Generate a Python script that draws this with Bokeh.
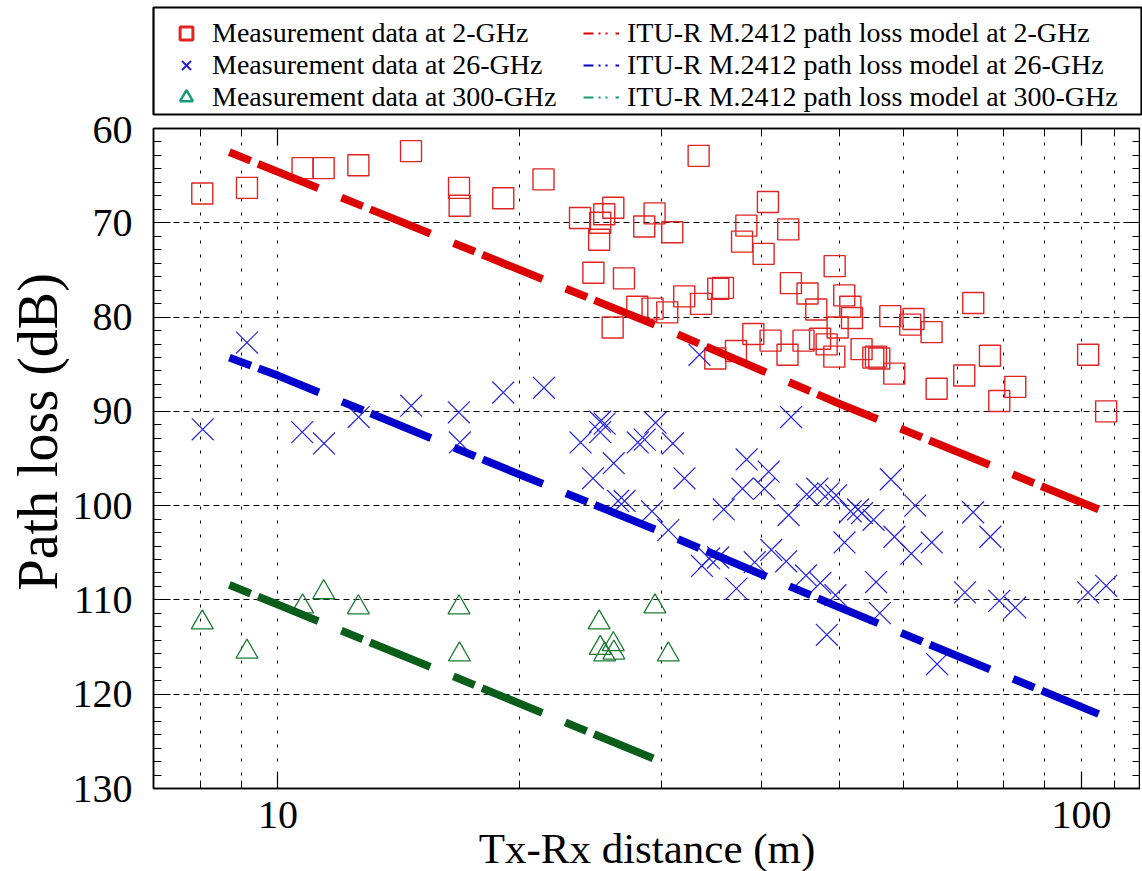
import numpy as np
from bokeh.plotting import figure
from bokeh.layouts import column
from bokeh.models import (Range1d, FixedTicker, SingleIntervalTicker, LogAxis, LinearAxis,
                          Legend, LegendItem, PrintfTickFormatter, Title)
from bokeh.embed import file_html
from bokeh.resources import INLINE

# ---------------- data ----------------
d_2ghz = [8.05, 9.15, 10.73, 11.40, 12.59, 14.64, 16.80, 16.83, 19.07, 21.40, 33.38, 23.76,
          25.47, 26.14, 25.18, 25.10, 29.42, 28.56, 30.95, 40.71, 38.27, 37.80, 40.21, 43.15,
          24.69, 26.95, 28.00, 29.25, 26.09, 30.51, 32.03, 33.61, 35.31, 35.79, 43.48, 39.04,
          37.15, 35.01, 41.02, 43.06, 45.08, 49.29, 45.60, 46.76, 50.66, 51.55, 51.80, 49.71,
          47.27, 48.17, 49.24, 53.24, 55.06, 55.48, 56.01, 58.47, 57.81, 61.79, 61.21, 65.07,
          66.02, 73.32, 76.91, 71.45, 79.0, 82.7, 101.9, 107.3]
pl_2ghz = [66.9, 66.3, 64.2, 64.2, 63.9, 62.4, 66.3, 68.2, 67.4, 65.4, 62.9, 69.5,
           69.1, 68.4, 70.0, 71.8, 69.0, 70.4, 71.0, 67.8, 70.3, 72.0, 73.3, 70.7,
           75.3, 75.9, 78.9, 79.1, 81.1, 79.5, 77.8, 78.6, 77.0, 76.9, 76.4, 81.8,
           83.6, 84.4, 82.5, 84.0, 82.5, 74.6, 77.5, 79.2, 77.7, 78.9, 80.1, 81.1,
           82.3, 82.9, 84.2, 83.4, 84.3, 84.2, 84.4, 86.0, 79.9, 80.2, 80.8, 81.6,
           87.6, 78.5, 84.1, 86.2, 88.9, 87.4, 84.0, 90.0]

d_26ghz = [8.06, 9.15, 10.72, 11.41, 12.60, 14.65, 16.79, 16.84, 19.07, 21.43, 33.46,
           25.17, 25.5, 25.18, 23.8, 29.5, 28.04, 28.6, 31.0, 26.17, 24.66, 32.05, 26.5, 27.0,
           29.2, 30.6, 38.3, 40.8, 37.85, 40.3, 35.87, 43.2, 43.5, 33.7, 34.4, 35.3, 37.2,
           39.2, 41.1, 42.9, 45.5, 46.9, 48.4, 49.5, 51.6, 52.7, 53.3, 55.1, 57.9, 62.1,
           58.5, 61.4, 65.1, 73.3, 77.0, 50.7, 55.5, 56.1, 48.2, 66.1, 71.6, 79.0, 82.7,
           101.9, 107.3, 45.4, 47.3, 49.4]
pl_26ghz = [91.9, 82.7, 92.2, 93.4, 90.6, 89.4, 90.1, 93.3, 88.0, 87.5, 84.0,
            91.1, 91.3, 92.2, 93.3, 91.2, 93.3, 93.0, 93.4, 95.5, 97.1, 97.1, 99.5, 99.5,
            100.6, 102.6, 95.1, 96.4, 98.2, 98.2, 100.4, 101.0, 90.6, 106.4, 105.6, 105.5, 108.8,
            106.0, 104.7, 105.9, 98.8, 98.2, 98.7, 98.9, 100.6, 100.4, 100.8, 101.5, 97.2, 100.0,
            103.3, 105.1, 103.9, 100.7, 103.3, 103.9, 108.1, 111.4, 113.7, 116.8, 109.2, 110.1, 110.8,
            109.2, 108.5, 107.4, 108.2, 109.5]

d_300ghz = [8.05, 9.15, 10.73, 11.40, 12.59, 16.80, 16.82, 25.1, 25.18, 26.14, 25.5, 26.18, 29.45, 30.6]
pl_300ghz = [112.4, 115.5, 110.7, 109.2, 110.8, 110.8, 115.8, 112.4, 115.1, 114.7, 115.8, 115.6, 110.7, 115.8]

# ITU-R M.2412 model curves
d_model = [8.7, 10, 20, 30, 50, 105]
pl_model_2ghz = [62.5, 64.6, 75.0, 81.1, 89.2, 100.4]
pl_model_26ghz = [84.3, 86.2, 96.7, 102.8, 110.8, 122.1]
d_model_300 = [8.7, 10, 20, 29.3]
pl_model_300ghz = [108.4, 110.5, 121.0, 126.8]

x_major = [10, 100]
x_minor = [7, 8, 9, 20, 30, 40, 50, 60, 70, 80, 90, 110]

labels_meas = ["Measurement data at 2-GHz", "Measurement data at 26-GHz",
               "Measurement data at 300-GHz"]
labels_model = ["ITU-R M.2412 path loss model at 2-GHz",
                "ITU-R M.2412 path loss model at 26-GHz",
                "ITU-R M.2412 path loss model at 300-GHz"]

# ---------------- styling ----------------
RED_M, BLUE_M, GREEN_M = "#e02424", "#2424dd", "#1f7a35"
RED_L, BLUE_L, GREEN_L = "#dd0000", "#0000cc", "#0a5e1a"
TEAL = "#179a7c"
FONT = "Liberation Serif"

# ---------------- legend strip (separate figure above the chart; its frame is the key box) ----
lf = figure(width=1142, frame_height=107, x_range=Range1d(0, 1), y_range=Range1d(0, 1),
            min_border_left=0, min_border_right=0, min_border_top=7, min_border_bottom=2,
            toolbar_location=None, output_backend="svg",
            x_axis_location=None, y_axis_location=None,
            background_fill_color="white", border_fill_color="white")
lf.outline_line_color = "black"
lf.outline_line_width = 2.2
lf.xgrid.visible = False
lf.ygrid.visible = False

nan1 = [np.nan]
lg1 = lf.scatter(nan1, nan1, marker="square", size=12, fill_color=None, line_color=RED_M, line_width=3)
lg2 = lf.scatter(nan1, nan1, marker="x", size=12, line_color=BLUE_M, line_width=2)
lg3 = lf.scatter(nan1, nan1, marker="triangle", size=12, fill_color=None, line_color=TEAL, line_width=2.5)
ldash = "10 5 2 5 2 8"
lg4 = lf.line([np.nan, np.nan], [np.nan, np.nan], line_color=RED_L, line_width=2, line_dash=ldash)
lg5 = lf.line([np.nan, np.nan], [np.nan, np.nan], line_color=BLUE_L, line_width=2, line_dash=ldash)
lg6 = lf.line([np.nan, np.nan], [np.nan, np.nan], line_color=TEAL, line_width=2, line_dash=ldash)

legend = Legend(items=[LegendItem(label=labels_meas[0], renderers=[lg1]),
                       LegendItem(label=labels_meas[1], renderers=[lg2]),
                       LegendItem(label=labels_meas[2], renderers=[lg3]),
                       LegendItem(label=labels_model[0], renderers=[lg4]),
                       LegendItem(label=labels_model[1], renderers=[lg5]),
                       LegendItem(label=labels_model[2], renderers=[lg6])],
                location=(15, 1), orientation="vertical", nrows=3,
                label_text_font=FONT, label_text_font_size="28px", label_text_color="black",
                label_standoff=8, label_width=371, label_height=24,
                glyph_width=36, glyph_height=32, spacing=0, padding=0, margin=0,
                border_line_color=None, background_fill_alpha=0)
lf.add_layout(legend)

# ---------------- main chart ----------------
p = figure(x_axis_type="log", x_range=Range1d(7, 118.4), y_range=Range1d(130, 60),
           frame_width=987, frame_height=660,
           min_border_left=153, min_border_right=0, min_border_top=12, min_border_bottom=83,
           output_backend="svg", toolbar_location=None,
           background_fill_color="white", border_fill_color="white")
p.outline_line_color = "black"
p.outline_line_width = 1.5

bx = p.below[0]
ly = p.left[0]

# measurement markers
p.scatter(d_2ghz, pl_2ghz, marker="square", size=21, fill_color=None,
          line_color=RED_M, line_width=1.4)
p.scatter(d_26ghz, pl_26ghz, marker="x", size=31, line_color=BLUE_M, line_width=1.2)
p.scatter(d_300ghz, pl_300ghz, marker="triangle", size=22, fill_color=None,
          line_color=GREEN_M, line_width=1.3)

# model lines
dash = "23 8 65 25"
p.line(d_model, pl_model_2ghz, line_color=RED_L, line_width=7.8, line_dash=dash)
p.line(d_model, pl_model_26ghz, line_color=BLUE_L, line_width=7.8, line_dash=dash)
p.line(d_model_300, pl_model_300ghz, line_color=GREEN_L, line_width=7.8, line_dash=dash)

# axes
bx.ticker = FixedTicker(ticks=x_major, minor_ticks=x_minor)
bx.formatter = PrintfTickFormatter(format="%d")
ly.ticker = SingleIntervalTicker(interval=10, num_minor_ticks=7)

top_ax = LogAxis(ticker=FixedTicker(ticks=x_major, minor_ticks=x_minor),
                 formatter=PrintfTickFormatter(format="%d"),
                 major_label_text_font_size="1px", major_label_text_color=None,
                 major_label_standoff=0)
right_ax = LinearAxis(ticker=SingleIntervalTicker(interval=10, num_minor_ticks=7),
                      major_label_text_font_size="1px", major_label_text_color=None,
                      major_label_standoff=0)
p.add_layout(top_ax, "above")
p.add_layout(right_ax, "right")

for ax in [bx, ly, top_ax, right_ax]:
    ax.major_tick_in = 17
    ax.major_tick_out = 0
    ax.minor_tick_in = 8
    ax.minor_tick_out = 0
    ax.axis_line_color = "black"
    ax.axis_line_width = 1.5
    ax.major_tick_line_color = "black"
    ax.minor_tick_line_color = "black"
    ax.major_tick_line_width = 1.2
    ax.minor_tick_line_width = 1

for ax in [bx, ly]:
    ax.major_label_text_font = FONT
    ax.major_label_text_font_size = "40px"
    ax.major_label_text_color = "black"

bx.axis_label = "Tx-Rx distance (m)"
bx.axis_label_text_font = FONT
bx.axis_label_text_font_size = "43px"
bx.axis_label_text_font_style = "normal"
bx.axis_label_text_color = "black"
bx.major_label_standoff = 13
bx.axis_label_standoff = -6
ly.major_label_standoff = 21

# y title as a left-side title so it can sit where the reference has it
ytitle = Title(text="Path loss (dB)", align="left", offset=198, vertical_align="middle",
               text_font=FONT, text_font_size="56px", text_font_style="normal",
               text_color="black", standoff=0)
p.add_layout(ytitle, "left")

# grids
p.ygrid.grid_line_color = "black"
p.ygrid.grid_line_dash = "6 4"
p.ygrid.grid_line_width = 1
p.xgrid.grid_line_color = "black"
p.xgrid.grid_line_dash = "3 11"
p.xgrid.grid_line_width = 1
p.xgrid.minor_grid_line_color = "black"
p.xgrid.minor_grid_line_dash = "3 11"
p.xgrid.minor_grid_line_width = 1

layout = column(lf, p, spacing=0)
open("out.html", "w").write(file_html(layout, INLINE))
